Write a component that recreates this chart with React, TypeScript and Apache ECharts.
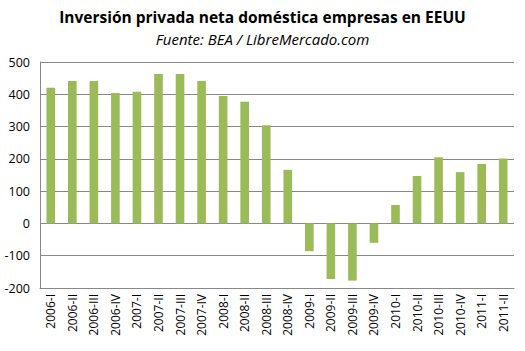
import React, { useEffect, useRef } from "react";
import * as echarts from "echarts";

const categories = [
  "2006-I", "2006-II", "2006-III", "2006-IV",
  "2007-I", "2007-II", "2007-III", "2007-IV",
  "2008-I", "2008-II", "2008-III", "2008-IV",
  "2009-I", "2009-II", "2009-III", "2009-IV",
  "2010-I", "2010-II", "2010-III", "2010-IV",
  "2011-I", "2011-II",
];
const values = [
  420, 441, 441, 404,
  408, 463, 463, 441,
  395, 377, 304, 166,
  -86, -172, -177, -60,
  57, 147, 205, 159,
  184, 201,
];
const titleText = "Inversión privada neta doméstica empresas en EEUU";
const subtitleText = "Fuente: BEA / LibreMercado.com";

export default function App() {
  const ref = useRef<HTMLDivElement>(null);
  useEffect(() => {
    if (!ref.current) return;
    const chart = echarts.init(ref.current, undefined, { renderer: "svg" });
    const font = "'Open Sans', 'DejaVu Sans', sans-serif";
    chart.setOption({
      animation: false,
      backgroundColor: "#ffffff",
      title: [
        {
          text: titleText,
          left: "center",
          top: 4,
          textStyle: { fontFamily: font, fontSize: 15.5, fontWeight: "bold", color: "#000" },
        },
        {
          text: subtitleText,
          left: "center",
          top: 26,
          textStyle: { fontFamily: font, fontSize: 15, fontStyle: "italic", fontWeight: "normal", color: "#000" },
        },
      ],
      grid: { left: 40, right: 11, top: 62, bottom: 63, containLabel: false },
      xAxis: {
        type: "category",
        data: categories,
        position: "bottom",
        axisLine: { onZero: false, show: true, lineStyle: { color: "#888888", width: 1 } },
        axisTick: { show: false },
        axisLabel: {
          rotate: 90,
          interval: 0,
          margin: 6,
          fontFamily: font,
          fontSize: 12,
          color: "#000",
        },
      },
      yAxis: {
        type: "value",
        min: -200,
        max: 500,
        interval: 100,
        axisLine: { show: true, lineStyle: { color: "#888888", width: 1 } },
        axisTick: { show: false },
        splitLine: { show: true, lineStyle: { color: "#888888", width: 1 } },
        axisLabel: { fontFamily: font, fontSize: 12.5, color: "#000", margin: 10 },
      },
      series: [
        {
          type: "bar",
          data: values,
          barWidth: "40%",
          itemStyle: { color: "#9BBB59" },
        },
      ],
    });
    return () => chart.dispose();
  }, []);
  return <div ref={ref} style={{ width: 525, height: 351, position: "absolute", left: 0, top: 0 }} />;
}
